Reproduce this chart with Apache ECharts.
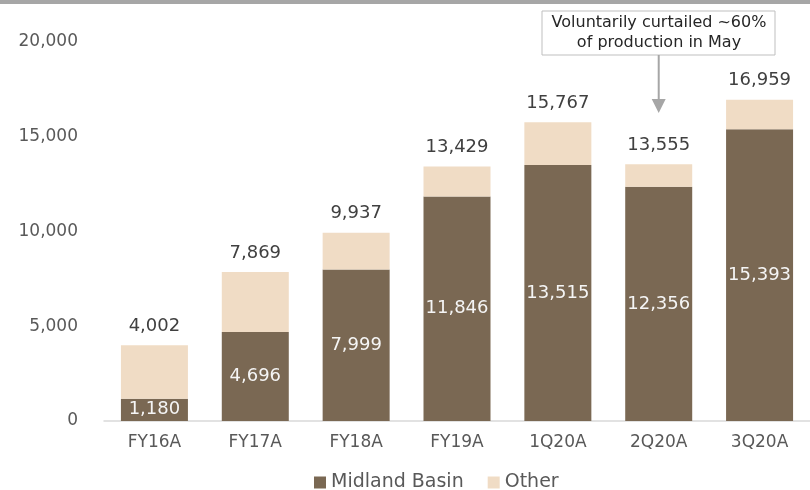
<!DOCTYPE html>
<html>
<head>
<meta charset="utf-8">
<script src="https://cdn.jsdelivr.net/npm/echarts@6/dist/echarts.min.js"></script>
<style>
html,body{margin:0;padding:0;background:#fff;}
#main{width:810px;height:490px;}
</style>
</head>
<body>
<div id="main"></div>
<script>
// 数据
var categories = ['FY16A', 'FY17A', 'FY18A', 'FY19A', '1Q20A', '2Q20A', '3Q20A'];
var midland = [1180, 4696, 7999, 11846, 13515, 12356, 15393];
var other = [2822, 3173, 1938, 1583, 2252, 1199, 1566];
var totals = [4002, 7869, 9937, 13429, 15767, 13555, 16959];
var yTicks = [0, 5000, 10000, 15000, 20000];

var FONT = '"DejaVu Sans", sans-serif';
function fmt(v){ return v.toLocaleString('en-US'); }

var chart = echarts.init(document.getElementById('main'));

var option = {
    animation: false,
    grid: { left: 104, right: -6, top: 42, bottom: 69, containLabel: false },
    legend: {
        top: 473,
        left: 314,
        padding: 0,
        itemWidth: 12,
        itemHeight: 12,
        itemGap: 24,
        icon: 'rect',
        textStyle: { fontFamily: FONT, fontSize: 19, color: '#595959' },
        data: ['Midland Basin', 'Other']
    },
    xAxis: {
        type: 'category',
        data: categories,
        axisLine: { lineStyle: { color: '#d9d9d9', width: 1.5 } },
        axisTick: { show: false },
        axisLabel: { fontFamily: FONT, fontSize: 17, color: '#595959', margin: 13 }
    },
    yAxis: {
        type: 'value',
        min: yTicks[0],
        max: yTicks[yTicks.length - 1],
        interval: 5000,
        splitLine: { show: false },
        axisLine: { show: false },
        axisLabel: { fontFamily: FONT, fontSize: 17, color: '#595959', margin: 26, formatter: fmt }
    },
    series: [
        {
            name: 'Midland Basin',
            type: 'bar',
            stack: 'total',
            barWidth: 67,
            itemStyle: { color: '#7a6853' },
            label: {
                show: true,
                position: 'inside',
                fontFamily: FONT,
                fontSize: 18,
                color: '#f5f5f5',
                formatter: function(p){ return fmt(p.value); }
            },
            data: midland
        },
        {
            name: 'Other',
            type: 'bar',
            stack: 'total',
            barWidth: 67,
            itemStyle: { color: '#f0dcc5' },
            label: {
                show: true,
                position: 'top',
                distance: 10,
                fontFamily: FONT,
                fontSize: 18,
                color: '#404040',
                formatter: function(p){ return fmt(totals[p.dataIndex]); }
            },
            data: other
        }
    ]
};
chart.setOption(option);

// 注释框和箭头
var ax = chart.convertToPixel({ xAxisIndex: 0 }, '2Q20A');
chart.setOption({
    graphic: [
        { type: 'rect', shape: { x: 0, y: 0, width: 810, height: 4 }, style: { fill: '#a6a6a6' } },
        { type: 'rect', shape: { x: 542, y: 11, width: 233, height: 44 }, style: { fill: '#fff', stroke: '#bfbfbf', lineWidth: 1 } },
        { type: 'text', x: 659, y: 23, style: { text: 'Voluntarily curtailed ~60%', fontFamily: FONT, fontSize: 16, fill: '#262626', align: 'center', verticalAlign: 'middle' } },
        { type: 'text', x: 659, y: 43, style: { text: 'of production in May', fontFamily: FONT, fontSize: 16, fill: '#262626', align: 'center', verticalAlign: 'middle' } },
        { type: 'line', shape: { x1: ax, y1: 55, x2: ax, y2: 101 }, style: { stroke: '#a6a6a6', lineWidth: 2 } },
        { type: 'polygon', shape: { points: [[ax - 7, 99], [ax + 7, 99], [ax, 113]] }, style: { fill: '#a6a6a6' } }
    ]
});
</script>
</body>
</html>
